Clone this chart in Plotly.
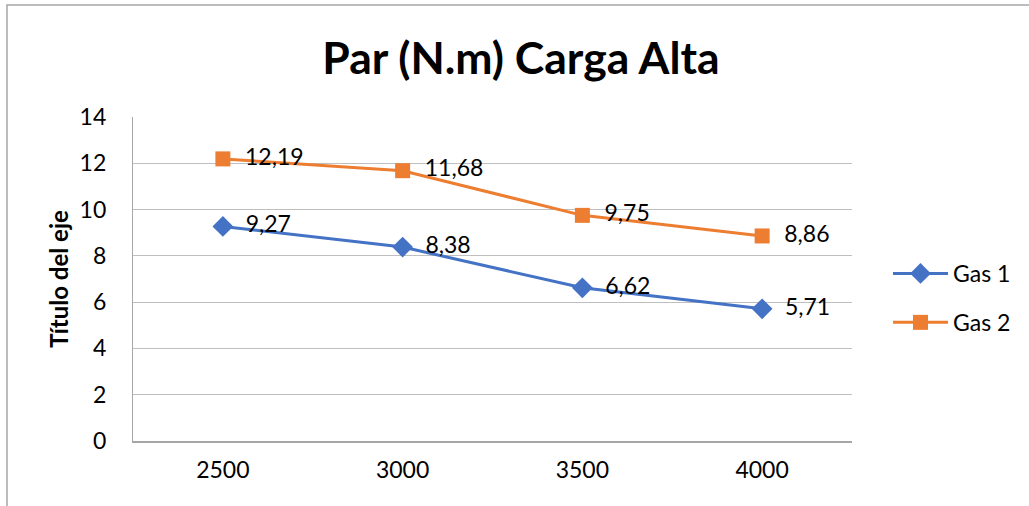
import plotly.graph_objects as go

categories = ["2500", "3000", "3500", "4000"]
gas1 = [9.27, 8.38, 6.62, 5.71]
gas2 = [12.19, 11.68, 9.75, 8.86]
y_ticks = [0, 2, 4, 6, 8, 10, 12, 14]

FONT = "Lato"
FS = 23
L, R, T, B = 133, 1029 - 852, 117, 506 - 441
W, H = 1029, 506
pw, ph = W - L - R, H - T - B

fig = go.Figure()
fig.add_trace(go.Scatter(
    x=categories, y=gas1, name="Gas 1", mode="lines+markers+text",
    line=dict(color="#4472C4", width=3),
    marker=dict(symbol="diamond", size=16, color="#4472C4"),
    texttemplate="  %{y:.2f}", textposition="middle right",
    textfont=dict(size=FS, color="#000000", family=FONT),
    legendgroup="g1",
))
fig.add_trace(go.Scatter(
    x=categories, y=gas2, name="Gas 2", mode="lines+markers+text",
    line=dict(color="#ED7D31", width=3),
    marker=dict(symbol="square", size=15, color="#ED7D31"),
    texttemplate="  %{y:.2f}", textposition="middle right",
    textfont=dict(size=FS, color="#000000", family=FONT),
    legendgroup="g2",
))

fig.add_shape(type="rect", xref="paper", yref="paper",
              x0=(7 - L) / pw, x1=(W + 20 - L) / pw,
              y0=-(H + 20 - (T + ph)) / ph, y1=1 + (T - 5) / ph,
              line=dict(color="#A6A6A6", width=1.5), fillcolor="rgba(0,0,0,0)",
              layer="below")

fig.update_layout(
    width=W, height=H,
    margin=dict(l=L, r=R, t=T, b=B),
    paper_bgcolor="white", plot_bgcolor="white",
    separators=",.",
    font=dict(family=FONT, color="#000000"),
    title=dict(text="<b>Par (N.m) Carga Alta</b>", x=521 / W, xanchor="center",
               y=1 - 58 / H, yanchor="middle",
               font=dict(size=44.5, family=FONT, color="#000000")),
    xaxis=dict(type="category", range=[-0.5, 3.5], showgrid=False,
               showline=True, linecolor="#A6A6A6", linewidth=1.5,
               ticks="", tickfont=dict(size=FS, family=FONT),
               ticklabelstandoff=8),
    yaxis=dict(range=[0, 14], tickvals=y_ticks, showgrid=True,
               gridcolor="#BFBFBF", gridwidth=1.2,
               showline=True, linecolor="#A6A6A6", linewidth=1.2,
               zeroline=False, ticks="", tickfont=dict(size=FS, family=FONT),
               ticklabelstandoff=21,
               title=dict(text="<b>Título del eje</b>", font=dict(size=24, family=FONT),
                          standoff=4)),
    legend=dict(x=(888 - L) / pw, xanchor="left", y=1 - (298 - T) / ph, yanchor="middle",
                font=dict(size=FS, family=FONT), itemwidth=55,
                tracegroupgap=16, bgcolor="rgba(0,0,0,0)"),
)

fig.write_html("out.html", config={"displayModeBar": False},
               post_script="document.body.style.margin='0';")
